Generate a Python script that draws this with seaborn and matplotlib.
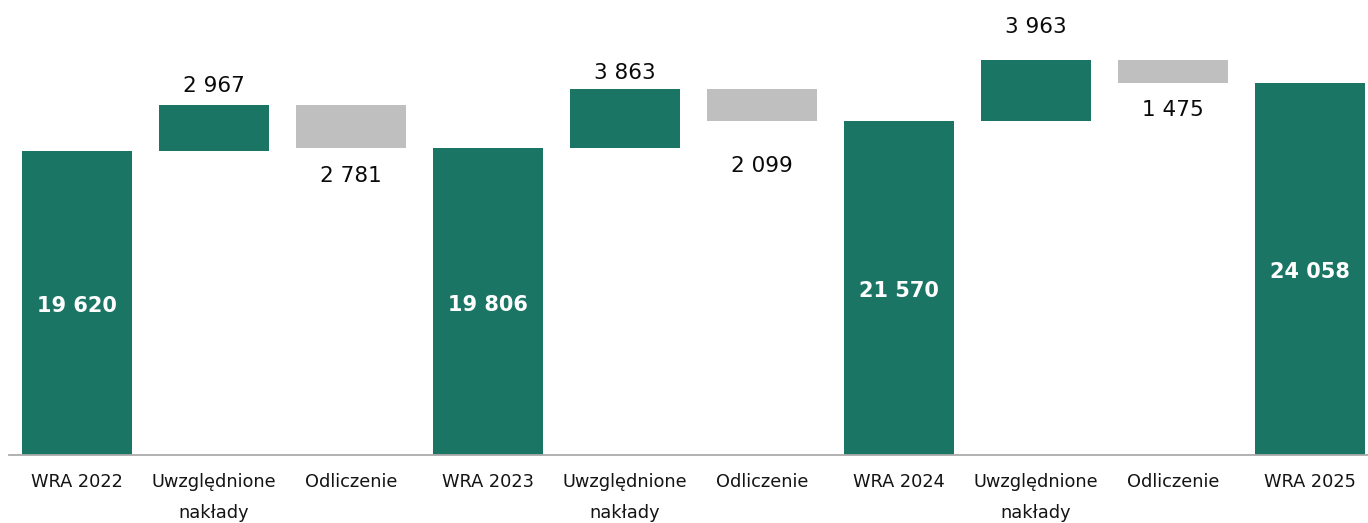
import numpy as np
import pandas as pd
import matplotlib
matplotlib.use("Agg")
import matplotlib.pyplot as plt
import seaborn as sns

# ── Données (WRA : wartość, nakłady, odliczenia) ─────────────
labels = ["WRA 2022", "Uwzględnione\nnakłady", "Odliczenie",
          "WRA 2023", "Uwzględnione\nnakłady", "Odliczenie",
          "WRA 2024", "Uwzględnione\nnakłady", "Odliczenie",
          "WRA 2025"]
totals     = [19620, 19806, 21570, 24058]
additions  = [2967, 3863, 3963]
deductions = [2781, 2099, 1475]

# écarts (px) entre étiquette et barre, comme sur l'original
gap_up   = [13, 10, 27]
gap_down = [18, 35, 17]

GREEN = "#1b7565"
GREY  = "#bfbfbf"

# ── Construction du tableau cascade ──────────────────────────
rows = []
for i, t in enumerate(totals):
    rows.append(dict(pos=3 * i, kind="total", value=t, bottom=0))
    if i < len(additions):
        rows.append(dict(pos=3 * i + 1, kind="add", value=additions[i], bottom=t))
        rows.append(dict(pos=3 * i + 2, kind="ded", value=deductions[i],
                         bottom=t + additions[i] - deductions[i]))
df = pd.DataFrame(rows).sort_values("pos").reset_index(drop=True)

sns.set_theme(style="white")
plt.rcParams["font.family"] = ["DejaVu Sans"]

fig = plt.figure(figsize=(13.68, 5.23), dpi=100)
ax = fig.add_axes([8.5 / 1368, 68 / 523, 1 - 8.5 / 1368, 455 / 523])

order = list(range(len(labels)))
for kind, col in [("total", GREEN), ("add", GREEN), ("ded", GREY)]:
    sub = df[df["kind"] == kind]
    sns.barplot(x=sub["pos"], y=sub["value"], order=order, bottom=sub["bottom"].to_numpy(),
                color=col, saturation=1, width=0.8, errorbar=None,
                linewidth=0, ax=ax)

ax.set_xlim(-0.5, -0.5 + 1359.5 / 137)
ax.set_ylim(0, 29400)

fmt = lambda v: f"{v:,}".replace(",", " ")

# étiquettes
for _, r in df.iterrows():
    if r["kind"] == "total":
        ax.annotate(fmt(r["value"]), (r["pos"], r["value"] / 2),
                    xytext=(0, -3), textcoords="offset pixels",
                    ha="center", va="center", color="white",
                    fontsize=15, fontweight="bold")
for k, r in enumerate(df[df["kind"] == "add"].itertuples()):
    ax.annotate(fmt(r.value), (r.pos, r.bottom + r.value),
                xytext=(0, gap_up[k]), textcoords="offset pixels",
                ha="center", va="baseline", color="#0a0a0a", fontsize=15.5)
for k, r in enumerate(df[df["kind"] == "ded"].itertuples()):
    ax.annotate(fmt(r.value), (r.pos, r.bottom),
                xytext=(0, -gap_down[k]), textcoords="offset pixels",
                ha="center", va="top", color="#0a0a0a", fontsize=15.5)

# axes
ax.set_xticks(order)
ax.set_xticklabels(labels, fontsize=12.8, color="#141414", linespacing=1.95)
ax.tick_params(axis="x", length=0, pad=13)
ax.set_yticks([])
ax.set_xlabel("")
ax.set_ylabel("")
sns.despine(ax=ax, left=True)
ax.spines["bottom"].set_color("#ababab")
ax.spines["bottom"].set_linewidth(1.3)

plt.savefig("out.png", dpi=100)
